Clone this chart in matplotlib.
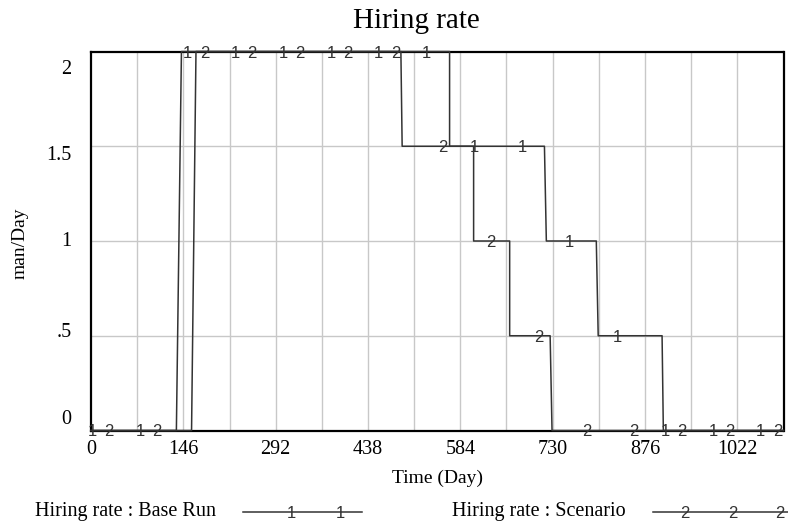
import numpy as np
import matplotlib
matplotlib.use("Agg")
import matplotlib.pyplot as plt
import matplotlib.transforms as mtransforms
from matplotlib.lines import Line2D

# --- data ---
base_days = [0, 135, 143, 567, 567, 717, 720, 799, 802, 903, 905, 1095]
base_vals = [0, 0, 2, 2, 1.5, 1.5, 1, 1, 0.5, 0.5, 0, 0]

scen_days = [0, 159, 166, 490, 492, 605, 605, 662, 662, 726, 729, 1095]
scen_vals = [0, 0, 2, 2, 1.5, 1.5, 1, 1, 0.5, 0.5, 0, 0]

x_ticks = [0, 146, 292, 438, 584, 730, 876, 1022]
y_ticks = [0, 0.5, 1, 1.5, 2]
y_ticklabels = ["0", ".5", "1", "1.5", "2"]

serif = "Liberation Serif"
sans = "Liberation Sans"
line_col = "#333333"
digit_fs = 12
digit_drop = -0.36 * digit_fs  # points, puts the digit's middle on the line

fig = plt.figure(figsize=(7.88, 5.27), dpi=100)
ax = fig.add_axes([91 / 788, 1 - 430.5 / 527, (783.5 - 91) / 788, (430.5 - 51.5) / 527])

ax.set_xlim(0, 1095)
ax.set_ylim(0, 2)

# grid every 73 days / 0.5 units
for gx in np.arange(73, 1095, 73):
    ax.axvline(gx, color="#c8c8c8", lw=1, zorder=0)
for gy in [0.5, 1, 1.5]:
    ax.axhline(gy, color="#c8c8c8", lw=1, zorder=0)

ax.plot(base_days, base_vals, color=line_col, lw=1.1, zorder=3, clip_on=False)
ax.plot(scen_days, scen_vals, color=line_col, lw=1.1, zorder=3, clip_on=False)

# vensim style number markers along each line
mark_step = 75.5
for d in np.arange(2, 1095, mark_step):
    ax.annotate("1", (d, np.interp(d, base_days, base_vals)), xytext=(0, digit_drop),
                textcoords="offset points", family=sans, fontsize=digit_fs,
                color=line_col, ha="center", va="baseline", zorder=4, annotation_clip=False)
for d in np.arange(28.4, 1095, mark_step):
    ax.annotate("2", (d, np.interp(d, scen_days, scen_vals)), xytext=(0, digit_drop),
                textcoords="offset points", family=sans, fontsize=digit_fs,
                color=line_col, ha="center", va="baseline", zorder=4, annotation_clip=False)

for s in ax.spines.values():
    s.set_linewidth(1.6)
    s.set_color("black")

ax.set_xticks(x_ticks)
ax.set_xticklabels([str(t) for t in x_ticks], family=serif, fontsize=14.5)
ax.set_yticks(y_ticks)
ax.set_yticklabels(y_ticklabels, family=serif, fontsize=14.5)
ax.tick_params(axis="both", length=0)
ax.tick_params(axis="x", pad=7)
ax.tick_params(axis="y", pad=14)

# vensim spreads the y labels evenly, slightly off the grid lines
y_shift_px = [-14, -6, -2, 6.5, 16]
for lab, dy in zip(ax.get_yticklabels(), y_shift_px):
    lab.set_transform(lab.get_transform() +
                      mtransforms.ScaledTranslation(0, -dy / 100, fig.dpi_scale_trans))

fig.text(416.7 / 788, 1 - 27.5 / 527, "Hiring rate", family=serif, fontsize=21,
         ha="center", va="baseline")
fig.text(20 / 788, 1 - 243 / 527, "man/Day", family=serif, fontsize=14,
         rotation=90, ha="center", va="center")
fig.text(438 / 788, 1 - 478 / 527, "Time (Day)", family=serif, fontsize=14,
         ha="center", va="center")

# legend at the bottom
ly = 1 - 511.5 / 527
fig.text(35 / 788, ly, "Hiring rate : Base Run", family=serif, fontsize=14.5,
         ha="left", va="center")
fig.add_artist(Line2D([243 / 788, 362 / 788], [ly, ly], color=line_col, lw=1.1))
for px in [291, 340]:
    fig.text(px / 788, ly - digit_fs * 0.36 / 72 * 100 / 527, "1", family=sans,
             fontsize=digit_fs, color=line_col, ha="center", va="baseline")

fig.text(452 / 788, ly, "Hiring rate : Scenario", family=serif, fontsize=14.5,
         ha="left", va="center")
fig.add_artist(Line2D([653 / 788, 788 / 788], [ly, ly], color=line_col, lw=1.1))
for px in [685, 733, 780]:
    fig.text(px / 788, ly - digit_fs * 0.36 / 72 * 100 / 527, "2", family=sans,
             fontsize=digit_fs, color=line_col, ha="center", va="baseline")

fig.savefig("out.png", dpi=100)
